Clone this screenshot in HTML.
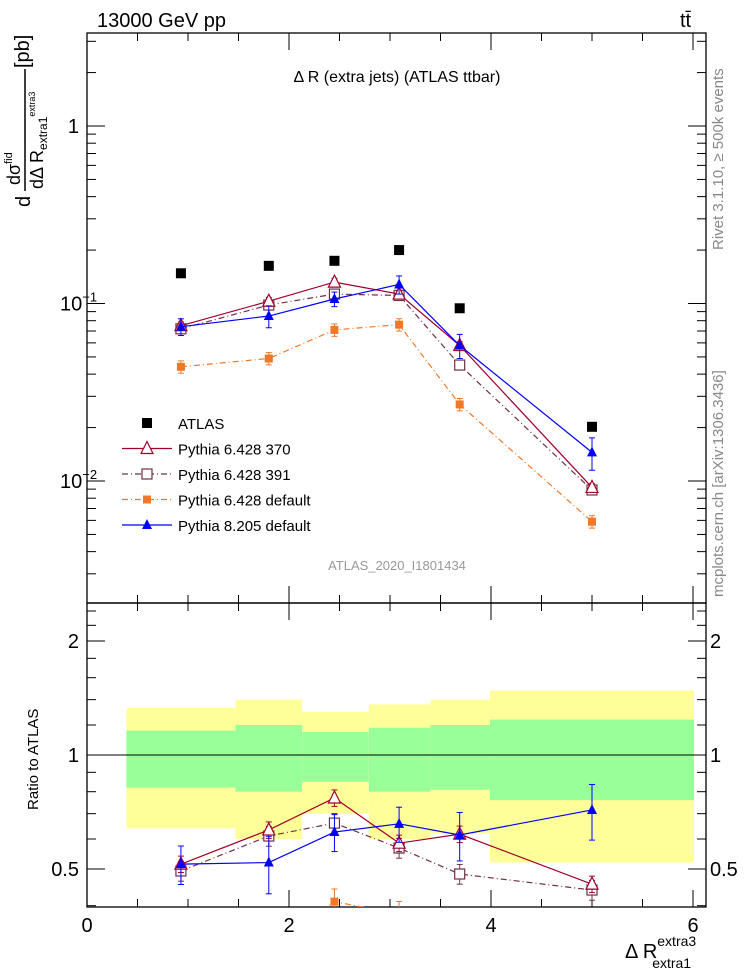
<!DOCTYPE html>
<html><head><meta charset="utf-8"><style>
body{margin:0;background:#fff}
svg{display:block;font-family:"Liberation Sans",sans-serif}
</style></head><body>
<svg id="chart" width="746" height="972" viewBox="0 0 746 972" xmlns="http://www.w3.org/2000/svg">
<defs>
<clipPath id="cm"><rect x="87" y="33" width="619" height="570"/></clipPath>
<clipPath id="cr"><rect x="87" y="603" width="619" height="304"/></clipPath>
</defs>
<g id="bands" clip-path="url(#cr)"></g>
<g id="axes"></g>
<g id="mainMarks" clip-path="url(#cm)"></g>
<g id="ratioMarks" clip-path="url(#cr)"></g>
<text x="97" y="27" font-size="20">13000 GeV pp</text>
<text x="680" y="27" font-size="20">tt̄</text>
<text x="397" y="82" font-size="16" text-anchor="middle">Δ R (extra jets) (ATLAS ttbar)</text>
<text transform="translate(723,250) rotate(-90)" font-size="15" fill="#888">Rivet 3.1.10, ≥ 500k events</text>
<text transform="translate(723,597) rotate(-90)" font-size="15" fill="#888">mcplots.cern.ch [arXiv:1306.3436]</text>
<text x="397" y="570" font-size="13" fill="#999" text-anchor="middle">ATLAS_2020_I1801434</text>
<g transform="translate(0,207) rotate(-90)">
<text x="0" y="30" font-size="20">d</text>
<text x="22" y="20" font-size="18">dσ<tspan font-size="11" dy="-8">fid</tspan></text>
<line x1="16" y1="25" x2="138" y2="25" stroke="#000" stroke-width="1.5"/>
<text x="18" y="43" font-size="18">dΔ R<tspan font-size="12" dy="4">extra1</tspan><tspan font-size="9" dy="-12">extra3</tspan></text>
<text x="139" y="29" font-size="20">[pb]</text>
</g>
<text transform="translate(38,810) rotate(-90)" font-size="15">Ratio to ATLAS</text>
<text x="625" y="958" font-size="20">Δ R<tspan font-size="14" dy="-12">extra3</tspan><tspan font-size="14" dx="-44" dy="22">extra1</tspan></text>
<g id="legend"></g>
</svg>
<script>
const xCenters=[0.93,1.80,2.45,3.09,3.69,5.0];
const binEdges=[0.39,1.47,2.13,2.79,3.40,3.99,6.01];
const atlas=[0.148,0.163,0.174,0.200,0.094,0.0202];
const py370=[0.075,0.103,0.132,0.113,0.058,0.0092];
const py391=[0.072,0.098,0.113,0.111,0.045,0.0089];
const pyDef=[0.044,0.049,0.071,0.076,0.027,0.0059];
const py8=[0.074,0.085,0.106,0.128,0.058,0.0145];
const py8Err=[0.008,0.012,0.010,0.015,0.009,0.003];
const r370=[0.515,0.634,0.77,0.585,0.618,0.456];
const r391=[0.494,0.611,0.661,0.568,0.485,0.44];
const rDef=[0.30,0.30,0.41,0.38,0.29,0.29];
const r8=[0.515,0.52,0.626,0.658,0.615,0.716];
const r8Err=[0.06,0.09,0.07,0.07,0.09,0.12];
const bandYelHi=[1.33,1.40,1.30,1.36,1.40,1.48];
const bandYelLo=[0.64,0.60,0.70,0.60,0.62,0.52];
const bandGrnHi=[1.16,1.20,1.15,1.18,1.20,1.24];
const bandGrnLo=[0.82,0.80,0.85,0.80,0.81,0.76];
const xTicks=[0,2,4,6];
const ratioTicks=[0.5,1,2];

const NS="http://www.w3.org/2000/svg";
const X=v=>87+101*v;
const YM=v=>126-177.5*Math.log10(v);
const YR=r=>755-114*Math.log2(r);
function mk(tag,attrs,parent){const e=document.createElementNS(NS,tag);for(const k in attrs)e.setAttribute(k,attrs[k]);parent.appendChild(e);return e;}
const ax=document.getElementById('axes');
let f=mk('rect',{x:87,y:33,width:619,height:570,fill:'none',stroke:'#000','stroke-width':1.3},ax);


f=mk('rect',{x:87,y:603,width:619,height:304,fill:'none',stroke:'#000','stroke-width':1.3},ax);


for(let v=0;v<=6.01;v+=0.5){const maj=Math.abs(v-Math.round(v/2)*2)<1e-6;const L=maj?17:8;const x=X(v);
 for(const [y0,dir] of [[603,-1],[907,-1],[33,1],[603,1]]) mk('line',{x1:x,x2:x,y1:y0,y2:y0+dir*L,stroke:'#000'},ax);}
xTicks.forEach(v=>{const t=mk('text',{x:X(v),y:932,'font-size':20,'text-anchor':'middle'},ax);t.textContent=v;
 
 });
for(let d=-3;d<=0;d++)for(let m=1;m<=9;m++){const v=m*Math.pow(10,d);const y=YM(v);if(y<33||y>603)continue;const L=m==1?18:9;
 mk('line',{x1:87,x2:87+L,y1:y,y2:y,stroke:'#000'},ax);mk('line',{x1:706,x2:706-L,y1:y,y2:y,stroke:'#000'},ax);}
[[1,'1'],[0.1,'10'],[0.01,'10']].forEach(([v,s],i)=>{const t=mk('text',{x:i==0?79:60,y:YM(v)+7,'font-size':20,'text-anchor':i==0?'end':'start'},ax);
 t.textContent=s;if(i>0){const sp=mk('tspan',{'font-size':13,dy:-9},t);sp.textContent=i==1?'−1':'−2';}
 
 });
[0.4,0.5,0.6,0.7,0.8,0.9,1,1.2,1.4,1.6,1.8,2,2.2,2.4].forEach(v=>{const y=YR(v);const L=(v==0.5||v==1||v==2)?18:9;
 mk('line',{x1:87,x2:87+L,y1:y,y2:y,stroke:'#000'},ax);mk('line',{x1:706,x2:706-L,y1:y,y2:y,stroke:'#000'},ax);});
ratioTicks.forEach(v=>{for(const [x,a] of [[79,'end'],[710,'start']]){const t=mk('text',{x:x,y:YR(v)+7,'font-size':20,'text-anchor':a},ax);t.textContent=v;
 
 }});
const bg=document.getElementById('bands');
for(let i=0;i<6;i++){const x0=X(binEdges[i]),w=X(binEdges[i+1])-x0;
 let r=mk('rect',{x:x0,y:YR(bandYelHi[i]),width:w,height:YR(bandYelLo[i])-YR(bandYelHi[i]),fill:'#ffff99'},bg);
 
 
 r=mk('rect',{x:x0,y:YR(bandGrnHi[i]),width:w,height:YR(bandGrnLo[i])-YR(bandGrnHi[i]),fill:'#99ff99'},bg);
 
 }
mk('line',{x1:87,x2:706,y1:YR(1),y2:YR(1),stroke:'#000'},bg);
function marker(g,type,x,y,col){let e;
 if(type=='sq') e=mk('rect',{x:x-5,y:y-5,width:10,height:10,fill:'#000'},g);
 else if(type=='osq') e=mk('rect',{x:x-5,y:y-5,width:10,height:10,fill:'#fff',stroke:col,'stroke-width':1.2},g);
 else if(type=='fsq') e=mk('rect',{x:x-4,y:y-4,width:8,height:8,fill:col},g);
 else if(type=='otri') e=mk('polygon',{points:`${x},${y-7} ${x-6},${y+5} ${x+6},${y+5}`,fill:'#fff',stroke:col,'stroke-width':1.2},g);
 else e=mk('polygon',{points:`${x},${y-6} ${x-5},${y+4} ${x+5},${y+4}`,fill:col},g);
 return e;}
function series(g,vals,errs,Y,col,dash,type,name){
 const pts=vals.map((v,i)=>X(xCenters[i])+','+Y(v)).join(' ');
 if(col!='#000'){const l=mk('polyline',{points:pts,fill:'none',stroke:col,'stroke-width':1.2,'stroke-dasharray':dash},g);
  
  }
 vals.forEach((v,i)=>{const x=X(xCenters[i]);
  if(errs){const e=errs[i];mk('line',{x1:x,x2:x,y1:Y(v+e),y2:Y(Math.max(v-e,1e-4)),stroke:col},g);
   mk('line',{x1:x-3,x2:x+3,y1:Y(v+e),y2:Y(v+e),stroke:col},g);mk('line',{x1:x-3,x2:x+3,y1:Y(Math.max(v-e,1e-4)),y2:Y(Math.max(v-e,1e-4)),stroke:col},g);}
  const m=marker(g,type,x,Y(v),col);
  
  });}
const mm=document.getElementById('mainMarks'),rm=document.getElementById('ratioMarks');
const C370='#a0002a',C391='#6e3048',CDEF='#f07828',C8='#0000ff';
series(mm,pyDef,pyDef.map(v=>v*0.08),YM,CDEF,'6 3 1 3','fsq','pythia6-default');
series(mm,py391,py391.map(v=>v*0.06),YM,C391,'6 3 1 3','osq','pythia6-391');
series(mm,py370,py370.map(v=>v*0.05),YM,C370,'','otri','pythia6-370');
series(mm,py8,py8Err,YM,C8,'','ftri','pythia8-default');
series(mm,atlas,null,YM,'#000','','sq','atlas');
series(rm,rDef,rDef.map(v=>v*0.08),YR,CDEF,'6 3 1 3','fsq','ratio-pythia6-default');
series(rm,r391,r391.map(v=>v*0.06),YR,C391,'6 3 1 3','osq','ratio-pythia6-391');
series(rm,r370,r370.map(v=>v*0.05),YR,C370,'','otri','ratio-pythia6-370');
series(rm,r8,r8Err,YR,C8,'','ftri','ratio-pythia8-default');
const lg=document.getElementById('legend');
[['ATLAS','#000','sq',''],['Pythia 6.428 370',C370,'otri',''],['Pythia 6.428 391',C391,'osq','6 3 1 3'],['Pythia 6.428 default',CDEF,'fsq','6 3 1 3'],['Pythia 8.205 default',C8,'ftri','']].forEach((e,i)=>{
 const y=423+i*25.5;const g=mk('g',{},lg);
 
 
 if(i>0)mk('line',{x1:122,x2:172,y1:y,y2:y,stroke:e[1],'stroke-width':1.2,'stroke-dasharray':e[3]},g);
 marker(g,e[2],147,y,e[1]);
 const t=mk('text',{x:178,y:y+6,'font-size':15},g);t.textContent=e[0];});
</script>
</body></html>
